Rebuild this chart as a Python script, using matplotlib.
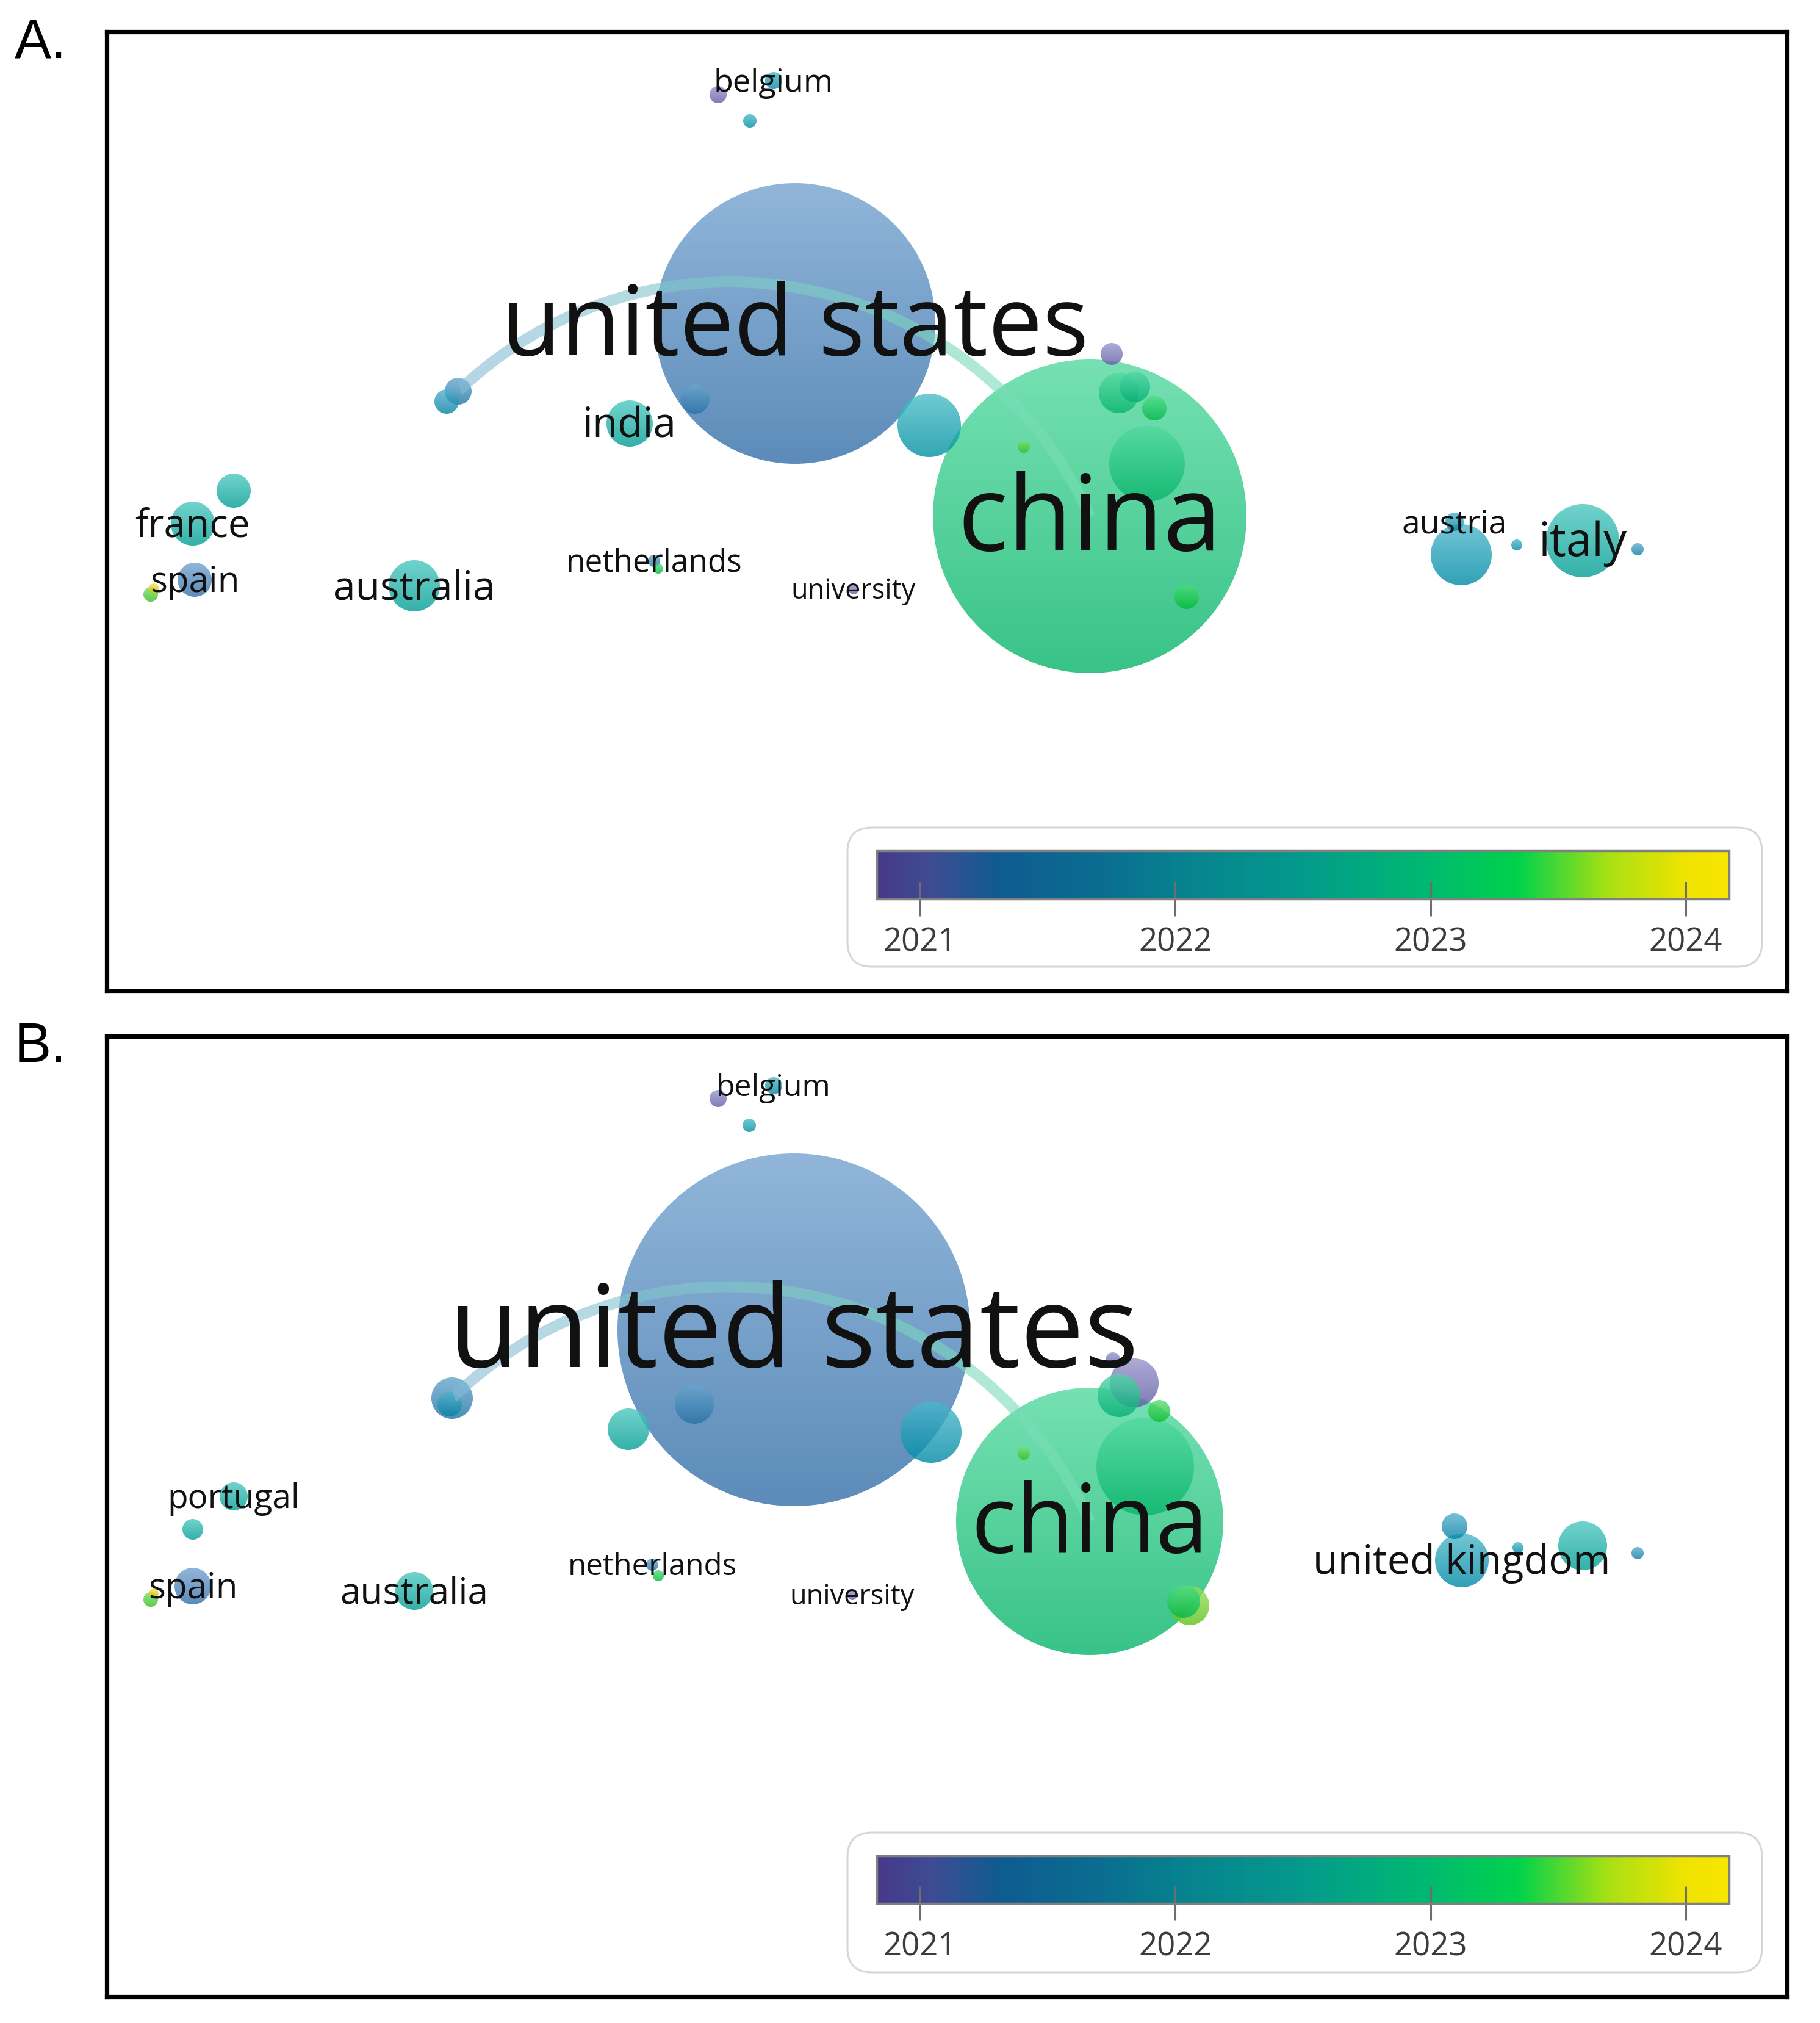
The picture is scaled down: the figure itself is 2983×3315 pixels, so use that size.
import numpy as np
import matplotlib
matplotlib.use('Agg')
from matplotlib import pyplot as plt
from matplotlib.colors import LinearSegmentedColormap, Normalize, to_rgb
from matplotlib.patches import Circle, FancyBboxPatch, PathPatch
from matplotlib.path import Path
from matplotlib.cm import ScalarMappable

plt.rcParams['font.family'] = ['Open Sans', 'DejaVu Sans']

# overlay colour scale (average publication year)
scale_years = [2020.83, 2021.05, 2021.3, 2021.7, 2022.0, 2022.5, 2023.0, 2023.35, 2023.7, 2024.0, 2024.17]
scale_colors = ['#47398a', '#3d4c93', '#0f5b91', '#0a6d90', '#07808f', '#039a8c',
                '#00ba70', '#00d24a', '#a8e014', '#eee300', '#f8e600']
year_ticks = [2021, 2022, 2023, 2024]

# panel A - map coordinates, node weight (radius) and avg. year
a_labels = ['', 'belgium', '', '', '', 'india', '', '', '', '', '', '', '', '', '',
            'china', 'united states', 'france', '', 'spain', '', '', 'australia',
            'netherlands', '', 'university', 'austria', '', '', 'italy', '']
a_x = [1002, 1093, 1054, 576, 557, 857, 964, 1348, 1647, 1659, 1685, 1717, 1705, 1503, 1770,
       1611, 1128, 141, 208, 144, 72, 77, 504, 897, 904, 1224, 2209, 2220, 2311, 2419, 2509]
a_y = [103, 80, 146, 589, 606, 642, 602, 645, 528, 592, 582, 617, 708, 680, 926,
       794, 478, 806, 752, 898, 922, 912, 908, 867, 880, 914, 803, 857, 841, 834, 848]
a_size = [14, 14, 11, 22, 20, 38, 24, 52, 18, 33, 25, 20, 62, 10, 20,
          257, 230, 36, 28, 28, 12, 8, 42, 10, 8, 8, 15, 50, 9, 60, 10]
a_year = [2021.0, 2022.1, 2022.2, 2021.6, 2021.9, 2022.6, 2021.5, 2022.3, 2021.0, 2023.0,
          2022.9, 2023.2, 2023.0, 2023.5, 2023.3, 2023.0, 2021.3, 2022.6, 2022.6, 2021.3,
          2023.5, 2024.0, 2022.6, 2021.6, 2023.3, 2020.9, 2022.0, 2022.1, 2022.1, 2022.6, 2021.8]
a_links = [(3, 15)]

# panel B
b_labels = ['', 'belgium', '', '', '', '', '', '', '', '', '', '', '', '', '', '',
            'china', 'united states', 'united kingdom', '', '', '', '', 'portugal', '',
            'spain', '', '', 'australia', 'netherlands', '', 'university']
b_x = [1002, 1093, 1053, 566, 562, 855, 963, 1351, 1684, 1659, 1649, 1725, 1702, 1503, 1775, 1765,
       1611, 1126, 2221, 2209, 2313, 2419, 2509, 208, 141, 141, 72, 77, 504, 894, 904, 1222]
b_y = [102, 81, 146, 593, 603, 644, 603, 649, 568, 589, 530, 614, 705, 684, 933, 926,
       795, 481, 859, 803, 838, 835, 847, 754, 808, 901, 923, 913, 909, 866, 884, 916]
b_size = [14, 14, 11, 34, 20, 34, 32, 50, 40, 35, 12, 18, 80, 10, 32, 27,
          219, 289, 44, 21, 9, 40, 10, 23, 17, 30, 12, 8, 31, 10, 9, 8]
b_year = [2021.0, 2022.1, 2022.2, 2021.6, 2021.9, 2022.6, 2021.5, 2022.1, 2020.95, 2022.9,
          2021.0, 2023.4, 2023.0, 2023.5, 2023.6, 2023.2, 2023.0, 2021.3, 2022.1, 2021.9,
          2022.1, 2022.6, 2021.8, 2022.6, 2022.6, 2021.3, 2023.5, 2024.0, 2022.6, 2021.6,
          2023.3, 2020.9]
b_links = [(3, 16)]

a_label_pt = {'belgium': 37.5, 'united states': 114.5, 'india': 48.5, 'china': 124, 'france': 46,
              'spain': 42, 'australia': 47.5, 'netherlands': 37, 'university': 32.5,
              'austria': 38.5, 'italy': 54.5}
b_label_pt = {'belgium': 36, 'united states': 134.5, 'china': 111.5, 'portugal': 39.5, 'spain': 42,
              'australia': 43.5, 'netherlands': 35.5, 'university': 32.5, 'united kingdom': 47.8}

# node fills are drawn semi-transparent, lighter than the bar itself (as in VOSviewer)
node_colors = ['#6d65b8', '#6d6ab9', '#3a7cbc', '#1d83b5', '#0095b8', '#00aab0',
               '#09c977', '#00cf38', '#90d810', '#ecd800', '#f6e226']

W, H = 2983, 3316
pos = [(y - scale_years[0]) / (scale_years[-1] - scale_years[0]) for y in scale_years]
cmap = LinearSegmentedColormap.from_list('vos', list(zip(pos, scale_colors)))
node_cmap = LinearSegmentedColormap.from_list('vos_nodes', list(zip(pos, node_colors)))
norm = Normalize(scale_years[0], scale_years[-1])

fig = plt.figure(figsize=(W / 100, H / 100), dpi=100)


def px_axes(x0, y0, x1, y1):
    return fig.add_axes([x0 / W, 1 - y1 / H, (x1 - x0) / W, (y1 - y0) / H])


def lighten(c, k):
    c = np.array(to_rgb(c))
    return c + (1 - c) * k


shade = np.linspace(0, 1, 48)[:, None, None]


def draw_node(ax, x, y, r, year):
    base = np.array(node_cmap(norm(year))[:3])
    img = lighten(base, 0.3) * (1 - shade) + base * 0.9 * shade
    im = ax.imshow(img, extent=(x - r, x + r, y + r, y - r), origin='upper',
                   interpolation='bilinear', aspect='auto', alpha=0.8, zorder=2)
    im.set_clip_path(Circle((x, y), r, transform=ax.transData))


def draw_link(ax, i, j, xs, ys, years, bend=0.26, width=18):
    p1 = np.array([xs[i], ys[i]], float)
    p2 = np.array([xs[j], ys[j]], float)
    c = p2 - p1
    L = np.hypot(*c)
    u = c / L
    n = np.array([u[1], -u[0]])
    s = bend * L
    R = (L * L / 4 + s * s) / (2 * s)
    xi = np.linspace(-L / 2, L / 2, 200)
    h = np.sqrt(R * R - xi * xi) - (R - s)
    pts = (p1 + p2) / 2 + xi[:, None] * u + h[:, None] * n
    t = np.gradient(pts, axis=0)
    t /= np.hypot(t[:, 0], t[:, 1])[:, None]
    nn = np.stack([-t[:, 1], t[:, 0]], axis=1)
    poly = np.concatenate([pts + nn * width / 2, (pts - nn * width / 2)[::-1]])
    clip = PathPatch(Path(poly, closed=True), transform=ax.transData)
    x0, x1 = poly[:, 0].min(), poly[:, 0].max()
    y0, y1 = poly[:, 1].min(), poly[:, 1].max()
    f = np.linspace(0, 1, 64)[None, :, None]
    c1 = lighten(node_cmap(norm(years[i]))[:3], 0.45)
    c2 = lighten(node_cmap(norm(years[j]))[:3], 0.45)
    rgb = c1 * (1 - f) + c2 * f
    rgba = np.concatenate([rgb, np.full((1, 64, 1), 0.6)], axis=2)
    im = ax.imshow(rgba, extent=(x0, x1, y1, y0), origin='upper', interpolation='bilinear',
                   aspect='auto', zorder=3)
    im.set_clip_path(clip)


def draw_panel(box, xs, ys, sizes, years, labels, label_pt, links, legend_box, bar_box):
    ax = px_axes(*box)
    pw, ph = box[2] - box[0], box[3] - box[1]
    ax.set_xlim(0, pw)
    ax.set_ylim(ph, 0)
    ax.set_autoscale_on(False)
    ax.set_xticks([])
    ax.set_yticks([])
    for sp in ax.spines.values():
        sp.set_linewidth(5.2)
        sp.set_color('black')

    for k in sorted(range(len(xs)), key=lambda k: -sizes[k]):
        draw_node(ax, xs[k], ys[k], sizes[k], years[k])
    for i, j in links:
        draw_link(ax, i, j, xs, ys, years)
    for k, lab in enumerate(labels):
        if lab:
            fs = label_pt[lab]
            ax.annotate(lab, (xs[k], ys[k]), xytext=(0, -0.32 * fs), textcoords='offset points',
                        ha='center', va='baseline', fontsize=fs, color='#111111', zorder=5)
    ax.set_xlim(0, pw)
    ax.set_ylim(ph, 0)

    # legend frame + colour bar
    lx0, ly0, lx1, ly1 = legend_box
    ax.add_patch(FancyBboxPatch((lx0 - box[0], ly0 - box[1]), lx1 - lx0, ly1 - ly0,
                                boxstyle='round,pad=0,rounding_size=40',
                                facecolor='white', edgecolor='#d6d6d6', linewidth=2.2, zorder=6))
    cax = px_axes(*bar_box)
    cb = fig.colorbar(ScalarMappable(norm=norm, cmap=cmap), cax=cax, orientation='horizontal',
                      ticks=year_ticks, format='%d')
    cb.outline.set_edgecolor('#808080')
    cb.outline.set_linewidth(2.5)
    cax.tick_params(axis='x', direction='inout', length=40, width=2.2, color='#6e6e6e',
                    labelsize=38, labelcolor='#3c3c3c', pad=12)
    return ax


draw_panel((175, 53, 2929, 1625), a_x, a_y, a_size, a_year, a_labels, a_label_pt, a_links,
           (1389, 1357, 2888, 1585), (1437, 1395, 2834, 1474))
draw_panel((175, 1699, 2929, 3273), b_x, b_y, b_size, b_year, b_labels, b_label_pt, b_links,
           (1389, 3004, 2888, 3233), (1437, 3042, 2834, 3120))

fig.text(24 / W, 1 - 95 / H, 'A.', fontsize=65, family='Liberation Sans', va='baseline')
fig.text(24 / W, 1 - 1740 / H, 'B.', fontsize=65, family='Liberation Sans', va='baseline')

fig.savefig('out.png', dpi=100, facecolor='white')
